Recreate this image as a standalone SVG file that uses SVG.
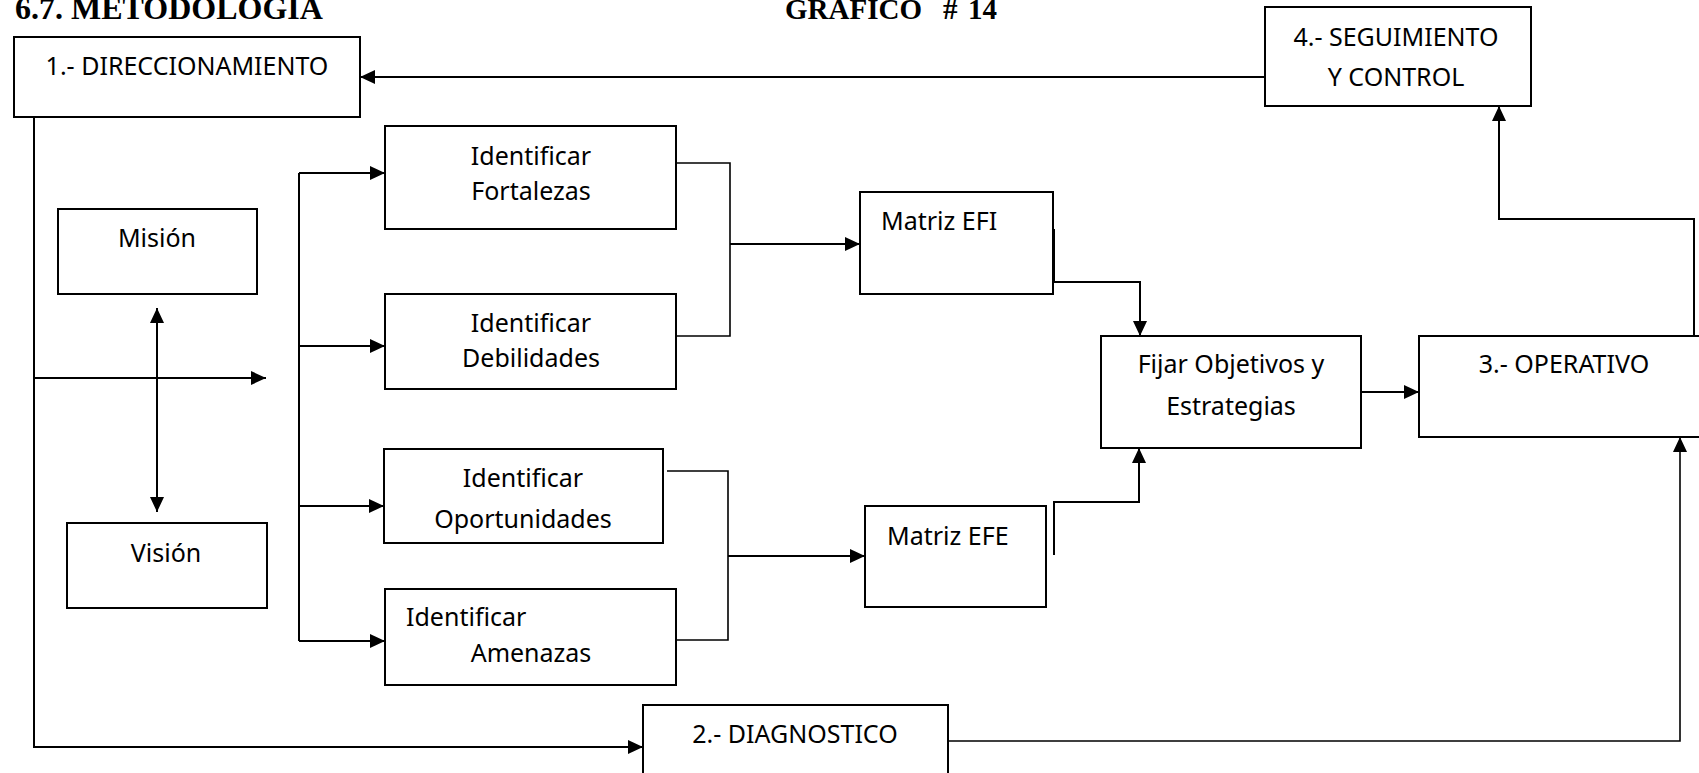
<svg xmlns="http://www.w3.org/2000/svg" width="1699" height="773" viewBox="0 0 1699 773">
  <style>
    .box { fill: #fff; stroke: #000; stroke-width: 2; }
    .lbl { font-family: "Noto Sans", "Open Sans", sans-serif; font-size: 25px; fill: #000; }
    .mid { text-anchor: middle; }
    .head { font-family: "Liberation Serif", serif; font-weight: bold; fill: #000; }
    .wire { fill: none; stroke: #000; stroke-width: 2; }
    .thin { fill: none; stroke: #000; stroke-width: 1.6; }
    .arr { marker-end: url(#tip); }
  </style>
  <defs>
    <marker id="tip" markerUnits="userSpaceOnUse" markerWidth="16" markerHeight="15" refX="15" refY="7" orient="auto-start-reverse">
      <path d="M0,0 L15,7 L0,14 z" fill="#000"/>
    </marker>
  </defs>
  <rect width="1699" height="773" fill="#fff"/>

  <!-- headings -->
  <text class="head" x="15" y="19" font-size="32">6.7. METODOLOGIA</text>
  <text class="head" x="785" y="19" font-size="29">GRAFICO<tspan x="943">#</tspan><tspan x="968">14</tspan></text>

  <!-- connectors -->
  <g id="connectors">
    <path class="wire arr" d="M1265,77 H360"/>
    <path class="wire arr" d="M34,117 V747 H643"/>
    <path class="wire arr" d="M34,378 H266"/>
    <path class="wire" d="M157,308 V512" marker-start="url(#tip)" marker-end="url(#tip)"/>
    <path class="wire" d="M299,173 V641"/>
    <path class="wire arr" d="M299,173 H385"/>
    <path class="wire arr" d="M299,346 H385"/>
    <path class="wire arr" d="M299,506 H384"/>
    <path class="wire arr" d="M299,641 H385"/>
    <path class="thin" d="M676,163 H730 V336 H676"/>
    <path class="wire arr" d="M730,244 H860"/>
    <path class="thin" d="M667,471 H728 V640 H677"/>
    <path class="wire arr" d="M728,556 H865"/>
    <path class="wire arr" d="M1054,229 V282 H1140 V336"/>
    <path class="wire arr" d="M1054,555 V502 H1139 V448"/>
    <path class="wire arr" d="M1361,392 H1419"/>
    <path class="wire arr" d="M1694,336 V219 H1499 V106"/>
    <path class="thin arr" d="M948,741 H1680 V437"/>
  </g>

  <g id="direccionamiento">
    <rect class="box" x="14" y="37" width="346" height="80"/>
    <text class="lbl mid" x="187" y="75">1.- DIRECCIONAMIENTO</text>
  </g>
  <g id="seguimiento">
    <rect class="box" x="1265" y="7" width="266" height="99"/>
    <text class="lbl mid" x="1396" y="46">4.- SEGUIMIENTO</text>
    <text class="lbl mid" x="1396" y="86">Y CONTROL</text>
  </g>
  <g id="mision">
    <rect class="box" x="58" y="209" width="199" height="85"/>
    <text class="lbl mid" x="157" y="247">Misión</text>
  </g>
  <g id="vision">
    <rect class="box" x="67" y="523" width="200" height="85"/>
    <text class="lbl mid" x="166" y="562">Visión</text>
  </g>
  <g id="fortalezas">
    <rect class="box" x="385" y="126" width="291" height="103"/>
    <text class="lbl mid" x="531" y="165">Identificar</text>
    <text class="lbl mid" x="531" y="200">Fortalezas</text>
  </g>
  <g id="debilidades">
    <rect class="box" x="385" y="294" width="291" height="95"/>
    <text class="lbl mid" x="531" y="332">Identificar</text>
    <text class="lbl mid" x="531" y="367">Debilidades</text>
  </g>
  <g id="oportunidades">
    <rect class="box" x="384" y="449" width="279" height="94"/>
    <text class="lbl mid" x="523" y="487">Identificar</text>
    <text class="lbl mid" x="523" y="528">Oportunidades</text>
  </g>
  <g id="amenazas">
    <rect class="box" x="385" y="589" width="291" height="96"/>
    <text class="lbl" x="406" y="626">Identificar</text>
    <text class="lbl mid" x="531" y="662">Amenazas</text>
  </g>
  <g id="matriz-efi">
    <rect class="box" x="860" y="192" width="193" height="102"/>
    <text class="lbl" x="881" y="230">Matriz EFI</text>
  </g>
  <g id="matriz-efe">
    <rect class="box" x="865" y="506" width="181" height="101"/>
    <text class="lbl" x="887" y="545">Matriz EFE</text>
  </g>
  <g id="objetivos">
    <rect class="box" x="1101" y="336" width="260" height="112"/>
    <text class="lbl mid" x="1231" y="373">Fijar Objetivos y</text>
    <text class="lbl mid" x="1231" y="415">Estrategias</text>
  </g>
  <g id="operativo">
    <rect class="box" x="1419" y="336" width="290" height="101"/>
    <text class="lbl mid" x="1564" y="373">3.- OPERATIVO</text>
  </g>
  <g id="diagnostico">
    <rect class="box" x="643" y="705" width="305" height="80"/>
    <text class="lbl mid" x="795" y="743">2.- DIAGNOSTICO</text>
  </g>
</svg>
